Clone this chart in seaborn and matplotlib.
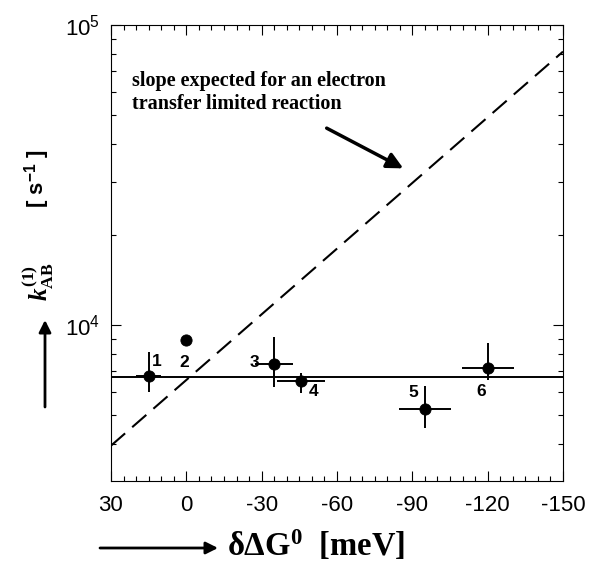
import numpy as np
import seaborn as sns
import matplotlib.pyplot as plt
from matplotlib.ticker import LogLocator, NullFormatter, MultipleLocator

# data
dG = [15, 0, -35, -45.7, -95, -120]          # meV
k_ab = [6780, 8910, 7400, 6520, 5240, 7210]   # s^-1
k_hi = [8110, 8910, 9100, 6900, 6260, 8690]
k_lo = [5995, 8910, 6230, 5920, 4526, 6550]
dG_err = [5.1, 0, 7.6, 9.6, 10.4, 10.3]
point_ids = ["1", "2", "3", "4", "5", "6"]
label_offsets = [(8, 14), (-2, -22), (-20, 2), (12, -11), (-12, 17), (-6, -24)]

flat_x = [30, -150]
flat_k = [6730, 6730]
et_x = [30, -150]
et_k = [3960, 81500]

sns.set_style("ticks")
plt.rcParams["font.family"] = ["Liberation Sans", "DejaVu Sans"]
plt.rcParams["axes.unicode_minus"] = False
plt.rcParams["text.color"] = "black"
plt.rcParams["xtick.color"] = "black"
plt.rcParams["ytick.color"] = "black"
plt.rcParams["axes.edgecolor"] = "black"
plt.rcParams["mathtext.fontset"] = "custom"
plt.rcParams["mathtext.rm"] = "Liberation Serif:bold"
plt.rcParams["mathtext.it"] = "Liberation Serif:italic:bold"
plt.rcParams["mathtext.bf"] = "Liberation Serif:bold"
plt.rcParams["mathtext.sf"] = "Liberation Sans:bold"

fig = plt.figure(figsize=(5.9, 5.65), dpi=100)
ax = fig.add_axes([0.1881, 0.1487, 0.7661, 0.8071])

sns.lineplot(x=flat_x, y=flat_k, ax=ax, color="black", lw=1.4, sort=False)
sns.lineplot(x=et_x, y=et_k, ax=ax, color="black", lw=1.5, sort=False,
             dashes=False, linestyle=(0, (9, 4.5)))

k_arr = np.array(k_ab)
yerr = [k_arr - np.array(k_lo), np.array(k_hi) - k_arr]
ax.errorbar(dG, k_ab, xerr=dG_err, yerr=yerr, fmt="none", ecolor="black",
            elinewidth=1.4, capsize=0)
sns.scatterplot(x=dG, y=k_ab, ax=ax, color="black", s=65, edgecolor="black",
                zorder=5)

for x, y, t, off in zip(dG, k_ab, point_ids, label_offsets):
    ax.annotate(t, (x, y), xytext=off, textcoords="offset pixels",
                ha="center", va="center", fontsize=12.5, fontweight="bold")

ax.set_yscale("log")
ax.set_xlim(30, -150)
ax.set_ylim(3020, 1e5)
ax.set_xticks([30, 0, -30, -60, -90, -120, -150])
ax.xaxis.set_minor_locator(MultipleLocator(5))
ax.yaxis.set_major_locator(LogLocator(base=10, subs=(1.0,)))
ax.yaxis.set_minor_locator(LogLocator(base=10, subs=np.arange(2, 10)))
ax.yaxis.set_minor_formatter(NullFormatter())
ax.tick_params(which="both", direction="in", top=True, right=True,
               labelsize=16, width=0.8)
ax.tick_params(which="major", length=7)
ax.tick_params(which="minor", length=3.5)
ax.tick_params(axis="x", pad=10)
ax.tick_params(axis="y", pad=8)
for s in ax.spines.values():
    s.set_linewidth(0.8)

# annotation for the dashed line
ax.text(0.046, 0.898, "slope expected for an electron\ntransfer limited reaction",
        transform=ax.transAxes, ha="left", va="top", fontsize=14.5,
        fontweight="bold", family="Liberation Serif", linespacing=1.15)
ax.annotate("", xy=(-86.4, 33270), xytext=(-55.9, 45300),
            arrowprops=dict(arrowstyle="-|>", lw=2.5, color="black",
                            mutation_scale=24, shrinkA=0, shrinkB=0))

# axis labels with arrows
ax.annotate("", xy=(218, 17), xytext=(100, 17), xycoords="figure pixels",
            textcoords="figure pixels",
            arrowprops=dict(arrowstyle="-|>", lw=2, color="black",
                            mutation_scale=18, shrinkA=0, shrinkB=0))
fig.text(227 / 590, 9 / 565, "δΔG$^{\\mathrm{0}}$  [meV]", ha="left",
         va="baseline", fontsize=23.5, fontweight="bold", family="Liberation Serif")

ax.annotate("", xy=(45, 565 - 320), xytext=(45, 565 - 407),
            xycoords="figure pixels", textcoords="figure pixels",
            arrowprops=dict(arrowstyle="-|>", lw=2, color="black",
                            mutation_scale=18, shrinkA=0, shrinkB=0))
fig.text(38 / 590, 1 - 282 / 565, r"$k^{(1)}_{\mathrm{AB}}$", rotation=90,
         ha="center", va="center", fontsize=18)
fig.text(37 / 590, 1 - 179 / 565, "[ s$^{\\mathsf{-1}}$ ]", rotation=90,
         ha="center", va="center", fontsize=16, fontweight="bold")

fig.savefig("out.png", dpi=100)
